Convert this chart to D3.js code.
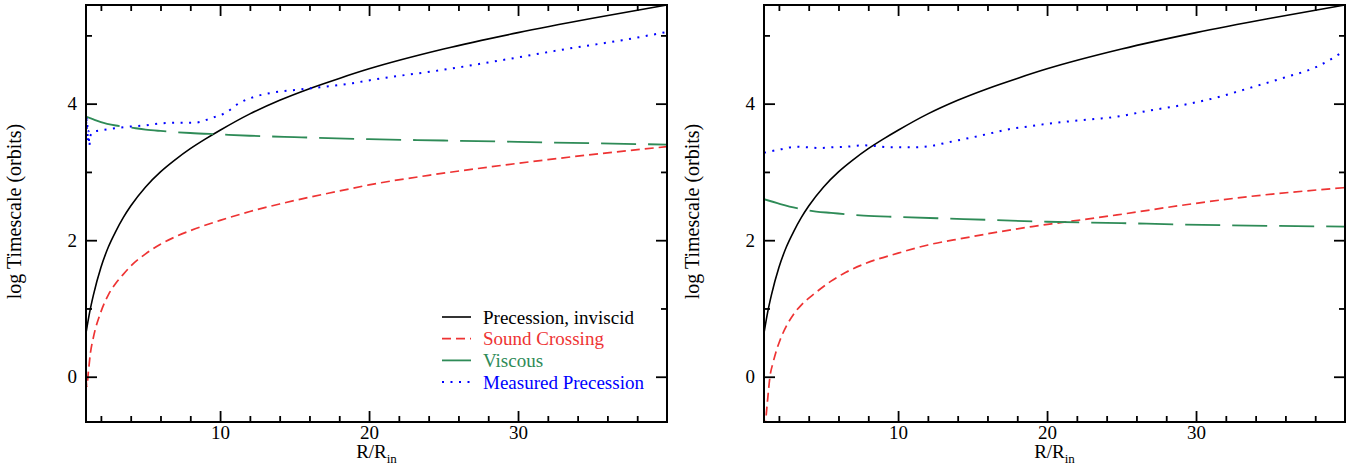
<!DOCTYPE html>
<html>
<head>
<meta charset="utf-8">
<script src="https://cdn.jsdelivr.net/npm/d3@7"></script>
<style>
  body { margin: 0; background: #fff; }
  svg { display: block; font-family: "Liberation Serif", "Times New Roman", serif; }
</style>
</head>
<body>
<div id="chart"></div>
<script>
// ---- data (x = R/Rin, y = log timescale in orbits) ----
const xMajor = [10, 20, 30];
const xMinor = [2, 4, 6, 8, 12, 14, 16, 18, 22, 24, 26, 28, 32, 34, 36, 38];
const yMajor = [0, 2, 4];
const yMinor = [1, 3, 5];
const seriesNames = ['Precession, inviscid', 'Sound Crossing', 'Viscous', 'Measured Precession'];

// same analytic precession curve in both panels
const precession = [[1, 0.64], [1.25, 0.95], [1.5, 1.2], [2, 1.6], [2.5, 1.9], [3, 2.13], [3.5, 2.33],
  [4, 2.5], [5, 2.78], [6, 3.0], [7, 3.18], [8, 3.34], [9, 3.48], [10, 3.61], [12, 3.85], [14, 4.05],
  [16, 4.22], [18, 4.37], [20, 4.51], [25, 4.8], [30, 5.04], [35, 5.25], [40, 5.445]];

// left panel
const soundLeft = [[1, -0.02], [1.06, -0.14], [1.15, 0.05], [1.3, 0.35], [1.5, 0.58], [2, 0.95],
  [2.5, 1.2], [3, 1.37], [3.5, 1.5], [4, 1.62], [5, 1.8], [6, 1.94], [7, 2.05], [8, 2.14], [10, 2.29],
  [12, 2.42], [14, 2.53], [16, 2.63], [18, 2.72], [20, 2.81], [24, 2.95], [28, 3.07], [32, 3.18],
  [36, 3.28], [40, 3.37]];
const viscousLeft = [[1, 3.81], [1.5, 3.77], [2, 3.73], [3, 3.68], [4, 3.65], [5, 3.62], [6, 3.6],
  [8, 3.57], [10, 3.55], [12, 3.53], [15, 3.51], [20, 3.48], [25, 3.46], [30, 3.44], [35, 3.42], [40, 3.4]];
const measuredLeft = [[1, 3.86], [1.04, 3.62], [1.08, 3.78], [1.12, 3.45], [1.17, 3.6], [1.22, 3.38],
  [1.28, 3.5], [1.35, 3.56], [1.5, 3.59], [2, 3.61], [2.6, 3.63], [3.7, 3.66], [4.9, 3.68], [6, 3.71],
  [7.1, 3.72], [8.2, 3.72], [8.8, 3.74], [9.3, 3.78], [10.4, 3.87], [11.3, 4.01], [12.3, 4.1],
  [13.5, 4.16], [15, 4.2], [16.7, 4.24], [18.9, 4.3], [20.5, 4.36], [24.5, 4.48], [29, 4.64],
  [33.5, 4.81], [37, 4.93], [40, 5.05]];

// right panel
const soundRight = [[1, 0.0], [1.03, -0.9], [1.11, -0.66], [1.25, -0.32], [1.4, 0.0], [1.6, 0.2],
  [1.8, 0.36], [2.1, 0.55], [2.5, 0.74], [3, 0.92], [3.5, 1.05], [4.4, 1.22], [5.5, 1.4], [6.5, 1.53],
  [7.7, 1.65], [10, 1.81], [12, 1.93], [14.4, 2.03], [16.7, 2.12], [19, 2.2], [21, 2.26], [24.7, 2.37],
  [29, 2.51], [33.6, 2.64], [40, 2.77]];
const viscousRight = [[1, 2.6], [2.1, 2.53], [3.2, 2.47], [4.5, 2.42], [5.5, 2.4], [7.7, 2.36],
  [10, 2.34], [14.4, 2.31], [20, 2.27], [25, 2.25], [29, 2.23], [35, 2.21], [40, 2.2]];
const measuredRight = [[1, 3.28], [2.1, 3.33], [3.2, 3.37], [4, 3.36], [4.8, 3.35], [5.5, 3.36],
  [6.6, 3.37], [7.7, 3.39], [8.4, 3.38], [9.5, 3.36], [11.1, 3.36], [12.2, 3.38], [13.3, 3.43],
  [14.4, 3.48], [15.5, 3.53], [16.7, 3.59], [17.8, 3.64], [18.9, 3.67], [20.2, 3.71], [22.4, 3.76],
  [24.7, 3.81], [26.9, 3.9], [29.1, 3.98], [31.4, 4.09], [33.6, 4.23], [35.9, 4.38], [38.1, 4.54],
  [40, 4.78]];

(function () {
  const width = 1359, height = 466;
  const plotTop = 5, plotBottom = 422, plotW = 581;

  const styles = [
    { color: '#000000', dash: null, w: 1.6 },
    { color: '#ee3333', dash: '9,5', w: 1.7 },
    { color: '#2e8b57', dash: '35,12', w: 1.8 },
    { color: '#0000ff', dash: '2,6.5', w: 2 }
  ];

  const svg = d3.select('#chart').append('svg')
    .attr('width', width).attr('height', height);

  const y = d3.scaleLinear().domain([-0.663, 5.445]).range([plotBottom, plotTop]);

  function drawPanel(left, series, id, withLegend) {
    const x = d3.scaleLinear().domain([1, 40]).range([left, left + plotW]);
    const g = svg.append('g');

    g.append('clipPath').attr('id', id).append('rect')
      .attr('x', left).attr('y', plotTop)
      .attr('width', plotW).attr('height', plotBottom - plotTop);

    const line = d3.line()
      .x(d => x(d[0])).y(d => y(d[1]))
      .curve(d3.curveMonotoneX);

    g.append('g').attr('clip-path', `url(#${id})`)
      .selectAll('path').data(series).join('path')
      .attr('d', d => line(d))
      .attr('fill', 'none')
      .attr('stroke', (d, i) => styles[i].color)
      .attr('stroke-width', (d, i) => styles[i].w)
      .attr('stroke-dasharray', (d, i) => styles[i].dash);

    // axes: inward ticks on all four sides
    function addAxis(axis, transform, size, values, labels, pad) {
      const a = g.append('g').attr('transform', transform)
        .call(axis.tickValues(values).tickSizeInner(-size).tickSizeOuter(0)
          .tickPadding(pad).tickFormat(labels ? d3.format('d') : ''));
      a.select('.domain').remove();
      a.attr('font-family', null).attr('font-size', 19);
      a.selectAll('line').attr('stroke-width', 1.8);
      a.selectAll('text').attr('fill', '#000');
    }
    addAxis(d3.axisBottom(x), `translate(0,${plotBottom})`, 11, xMajor, true, 4);
    addAxis(d3.axisBottom(x), `translate(0,${plotBottom})`, 6, xMinor, false, 4);
    addAxis(d3.axisTop(x), `translate(0,${plotTop})`, 11, xMajor, false, 5);
    addAxis(d3.axisTop(x), `translate(0,${plotTop})`, 6, xMinor, false, 5);
    addAxis(d3.axisLeft(y), `translate(${left},0)`, 11, yMajor, true, 9);
    addAxis(d3.axisLeft(y), `translate(${left},0)`, 6, yMinor, false, 9);
    addAxis(d3.axisRight(y), `translate(${left + plotW},0)`, 11, yMajor, false, 9);
    addAxis(d3.axisRight(y), `translate(${left + plotW},0)`, 6, yMinor, false, 9);

    g.append('rect')
      .attr('x', left).attr('y', plotTop)
      .attr('width', plotW).attr('height', plotBottom - plotTop)
      .attr('fill', 'none').attr('stroke', '#000').attr('stroke-width', 2);

    // axis titles
    g.append('text')
      .attr('transform', `translate(${left - 65},${(plotTop + plotBottom) / 2 - 2}) rotate(-90)`)
      .attr('text-anchor', 'middle').attr('font-size', 20)
      .text('log Timescale (orbits)');

    const xt = g.append('text')
      .attr('x', left + plotW / 2).attr('y', 458)
      .attr('text-anchor', 'middle').attr('font-size', 19);
    xt.append('tspan').text('R/R');
    xt.append('tspan').attr('font-size', 13).attr('dy', 5).text('in');

    if (withLegend) {
      const lx = left + 356, ly = 317, step = 21.7;
      const leg = g.append('g');
      seriesNames.forEach((name, i) => {
        const row = leg.append('g').attr('transform', `translate(${lx},${ly + i * step})`);
        row.append('line').attr('x1', 0).attr('x2', 29)
          .attr('stroke', styles[i].color).attr('stroke-width', styles[i].w)
          .attr('stroke-dasharray', styles[i].dash);
        row.append('text').attr('x', 41).attr('dy', '0.35em')
          .attr('font-size', 19).attr('fill', styles[i].color).text(name);
      });
    }
  }

  drawPanel(86, [precession, soundLeft, viscousLeft, measuredLeft], 'clipL', true);
  drawPanel(764, [precession, soundRight, viscousRight, measuredRight], 'clipR', false);
})();
</script>
</body>
</html>
